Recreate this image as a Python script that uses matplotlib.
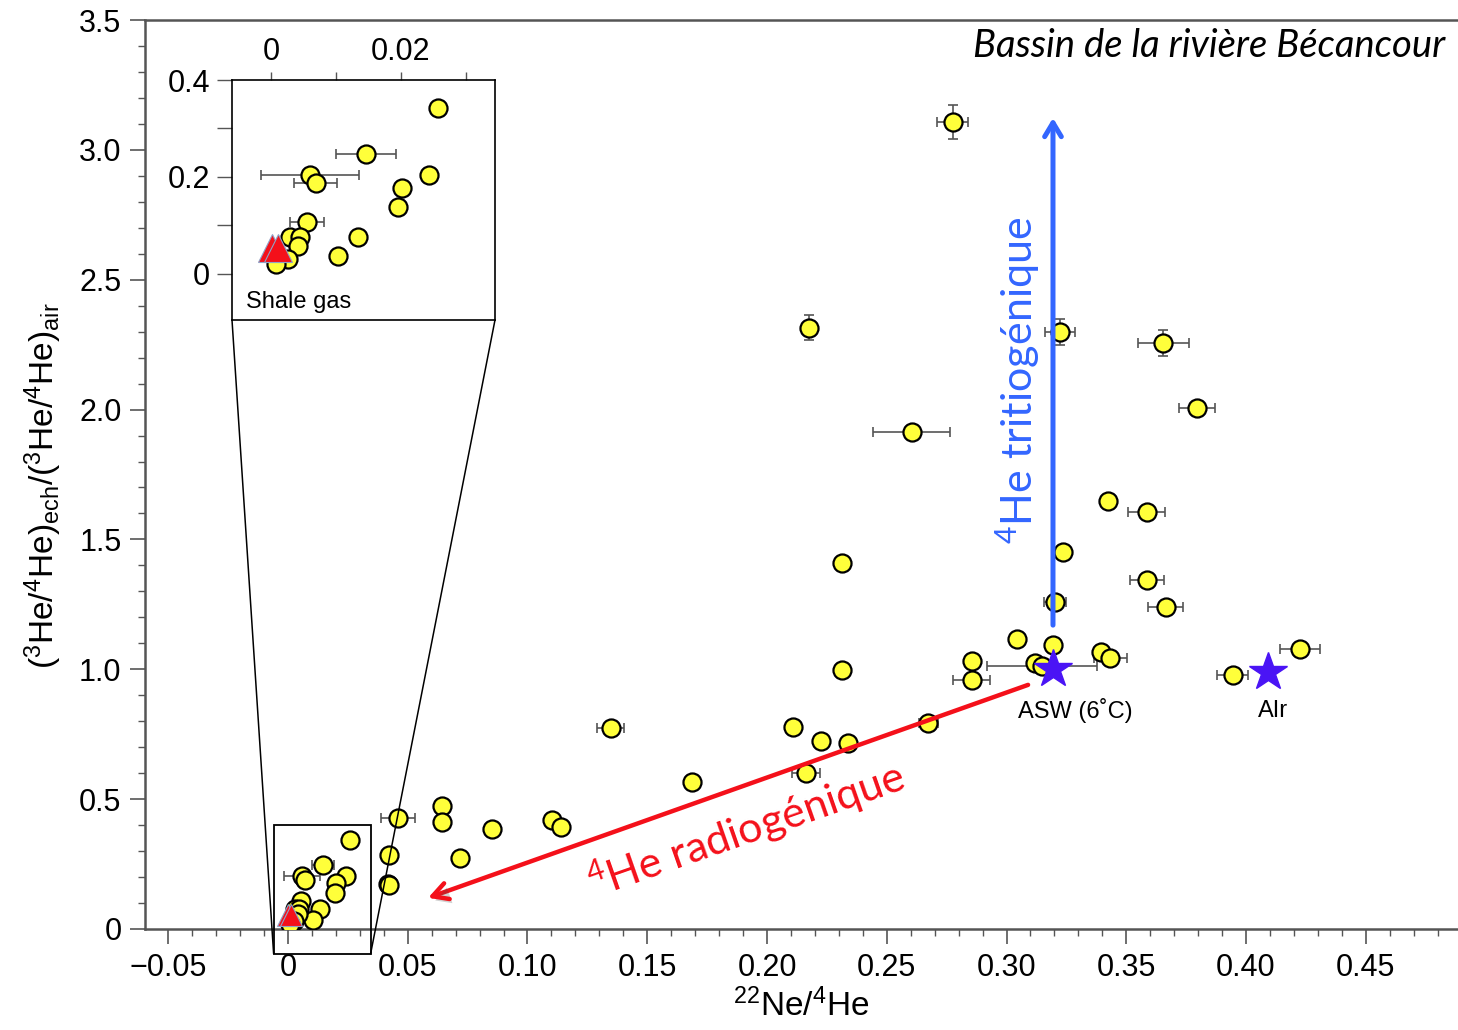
import numpy as np
import matplotlib
matplotlib.use("Agg")
import matplotlib.pyplot as plt
from matplotlib.patches import Rectangle, ConnectionPatch
import matplotlib.patheffects as pe

plt.rcParams['font.family'] = ['Liberation Sans', 'DejaVu Sans']
plt.rcParams['mathtext.default'] = 'regular'

# samples: 22Ne/4He, (3He/4He)ech/(3He/4He)air and their errors
ne_he = [0.2775, 0.2177, 0.3223, 0.3655, 0.3794, 0.2604, 0.3425, 0.3585, 0.2313, 0.3235,
         0.3585, 0.3665, 0.3203, 0.3044, 0.3196, 0.3395, 0.3434, 0.3120, 0.3148, 0.2855,
         0.2855, 0.2313, 0.3944, 0.4225, 0.2674, 0.2107, 0.2225, 0.2337, 0.2163, 0.1347,
         0.1686, 0.1104, 0.1139, 0.0461, 0.0642, 0.0642, 0.0852, 0.0718, 0.0423, 0.0416,
         0.0420,
         0.0257, 0.0146, 0.0060, 0.0069, 0.0243, 0.0202, 0.0196, 0.0056, 0.0134, 0.0103,
         0.0030, 0.0044, 0.0042, 0.0027, 0.0008]
he_ratio = [3.106, 2.315, 2.300, 2.258, 2.007, 1.913, 1.649, 1.606, 1.409, 1.450,
            1.344, 1.241, 1.260, 1.117, 1.094, 1.066, 1.045, 1.024, 1.011, 1.032,
            0.958, 0.997, 0.978, 1.078, 0.792, 0.779, 0.724, 0.715, 0.600, 0.773,
            0.565, 0.420, 0.394, 0.426, 0.474, 0.413, 0.385, 0.272, 0.285, 0.173,
            0.169,
            0.343, 0.247, 0.205, 0.187, 0.204, 0.178, 0.1375, 0.108, 0.077, 0.036,
            0.076, 0.076, 0.058, 0.031, 0.020]
ne_err = [0.0066, 0, 0.0061, 0.0108, 0.0075, 0.0160, 0, 0.0076, 0, 0,
          0.0071, 0.0073, 0.0045, 0, 0, 0, 0.0067, 0, 0.0230, 0,
          0.0078, 0, 0.0065, 0.0083, 0.0040, 0, 0, 0, 0.0058, 0.0056,
          0, 0, 0, 0.0071, 0, 0, 0, 0, 0, 0,
          0,
          0, 0.0046, 0.0075, 0.0033, 0, 0, 0, 0.0026, 0, 0,
          0, 0, 0, 0, 0]
he_err = [0.065, 0.048, 0.050, 0.050, 0.020, 0.020, 0, 0, 0.020, 0,
          0, 0.020, 0.010, 0, 0, 0, 0, 0, 0, 0,
          0, 0.020, 0, 0, 0, 0, 0, 0, 0, 0,
          0, 0, 0, 0, 0, 0, 0, 0, 0, 0,
          0,
          0, 0, 0, 0, 0, 0, 0, 0, 0, 0,
          0, 0, 0, 0, 0]

# shale gas
shale_x = [0.0001, 0.0011]
shale_y = [0.054, 0.054]

# end members
ref_names = ['ASW (6˚C)', 'AIr']
ref_x = [0.3196, 0.4093]
ref_y = [1.0, 0.99]

xticks = [-0.05, 0, 0.05, 0.10, 0.15, 0.20, 0.25, 0.30, 0.35, 0.40, 0.45]
xticklabels = ['−0.05', '0', '0.05', '0.10', '0.15', '0.20', '0.25', '0.30', '0.35', '0.40', '0.45']
yticks = [0, 0.5, 1.0, 1.5, 2.0, 2.5, 3.0, 3.5]
yticklabels = ['0', '0.5', '1.0', '1.5', '2.0', '2.5', '3.0', '3.5']

yellow = '#ffff3a'
star_c = '#4a14f5'
blue = '#3366ff'
red = '#f4101a'
grey = '#555555'

W, H = 1458, 1030
fig = plt.figure(figsize=(W / 100, H / 100), dpi=100)
ax = fig.add_axes([145 / W, 1 - 929 / H, (W - 145) / W, 909 / H])


def draw_points(a, ms_tri):
    a.errorbar(ne_he, he_ratio, xerr=ne_err, yerr=he_err, fmt='none', ecolor=grey,
               elinewidth=1.2, capsize=3.5, capthick=1.2, zorder=3)
    a.plot(ne_he, he_ratio, 'o', ms=13, mfc=yellow, mec='black', mew=1.6, zorder=4)
    a.plot(shale_x, shale_y, '^', ms=ms_tri, color=red, mec='#8fa3c8', mew=0.8, zorder=5)


draw_points(ax, 16)
ax.plot(ref_x, ref_y, '*', ms=29, color=star_c, mec=star_c, zorder=6)
for name, xx, yy in zip(ref_names, ref_x, ref_y):
    ax.text(xx + (0.009 if name.startswith('ASW') else 0.002), 0.84, name, fontsize=17,
            ha='center', va='center', zorder=6)

ax.set_xlim(-0.0597, 0.4885)
ax.set_ylim(0, 3.5)
ax.set_xticks(xticks)
ax.set_xticklabels(xticklabels)
ax.set_yticks(yticks)
ax.set_yticklabels(yticklabels)
ax.set_xticks(np.arange(-0.05, 0.49, 0.01), minor=True)
ax.set_yticks(np.arange(0, 3.5, 0.1), minor=True)
ax.tick_params(which='major', direction='out', length=11, width=1.2, color=grey,
               labelsize=22, pad=6)
ax.tick_params(which='minor', direction='out', length=5, width=1, color=grey)
for s in ['left', 'bottom', 'top']:
    ax.spines[s].set_color(grey)
    ax.spines[s].set_linewidth(1.8)
ax.spines['right'].set_visible(False)

ax.set_xlabel('${}^{22}$Ne/${}^{4}$He', fontsize=24, labelpad=4)
ax.set_ylabel('(${}^3$He/${}^4$He)$_{ech}$/(${}^3$He/${}^4$He)$_{air}$', fontsize=24)
ax.yaxis.set_label_coords(-0.062, 0.488)

ax.text(0.99, 0.971, 'Bassin de la rivière Bécancour', transform=ax.transAxes,
        ha='right', va='center', fontsize=27.5, style='italic', family=['Lato', 'DejaVu Sans'])

# arrows
ax.annotate('', xy=(0.3194, 3.123), xytext=(0.3194, 1.17),
            arrowprops=dict(arrowstyle='->, head_length=0.5, head_width=0.3', color=blue,
                            lw=3.6, mutation_scale=20, shrinkA=0, shrinkB=0), zorder=7)
red_arrow = ax.annotate('', xy=(0.0585, 0.12), xytext=(0.309, 0.94),
                        arrowprops=dict(arrowstyle='->, head_length=0.55, head_width=0.3',
                                        color=red, lw=3.2, mutation_scale=20,
                                        shrinkA=0, shrinkB=0), zorder=7)
red_arrow.arrow_patch.set_path_effects([pe.SimplePatchShadow(offset=(2, -3), alpha=0.25),
                                        pe.Normal()])

ax.text(0.1915, 0.386, '$^4$He radiogénique', color=red, fontsize=31, rotation=19.3,
        rotation_mode='anchor', ha='center', va='center', family=['Lato', 'DejaVu Sans'], zorder=7)
ax.text(0.3048, 2.114, '$^4$He tritiogénique', color=blue, fontsize=31, rotation=90,
        rotation_mode='anchor', ha='center', va='center', family=['Lato', 'DejaVu Sans'], zorder=7)

# inset
axins = fig.add_axes([232 / W, 1 - 320 / H, 263 / W, 240 / H])
draw_points(axins, 20)
axins.set_xlim(-0.006, 0.0345)
axins.set_ylim(-0.095, 0.4)
axins.xaxis.tick_top()
axins.set_xticks([0, 0.01, 0.02, 0.03])
axins.set_xticklabels(['0', '', '0.02', ''])
axins.set_yticks([0, 0.1, 0.2, 0.3, 0.4])
axins.set_yticklabels(['0', '', '0.2', '', '0.4'])
axins.tick_params(axis='x', direction='out', length=6, width=1, color=grey, labelsize=22, pad=3)
axins.tick_params(axis='y', direction='out', length=11, width=1, color=grey, labelsize=22, pad=5)
for s in axins.spines.values():
    s.set_linewidth(1.2)
axins.text(0.255, 0.075, 'Shale gas', transform=axins.transAxes, fontsize=17,
           ha='center', va='center')

x0, x1 = axins.get_xlim()
y0, y1 = axins.get_ylim()
ax.add_patch(Rectangle((x0, y0), x1 - x0, y1 - y0, fill=False, ec='black', lw=1.3,
                       clip_on=False, zorder=8))
for fx, dx in [(0, x0), (1, x1)]:
    con = ConnectionPatch(xyA=(fx, 0), coordsA=axins.transAxes, xyB=(dx, y0),
                          coordsB=ax.transData, color='black', lw=1.1)
    fig.add_artist(con)

fig.savefig('out.png', dpi=100)
